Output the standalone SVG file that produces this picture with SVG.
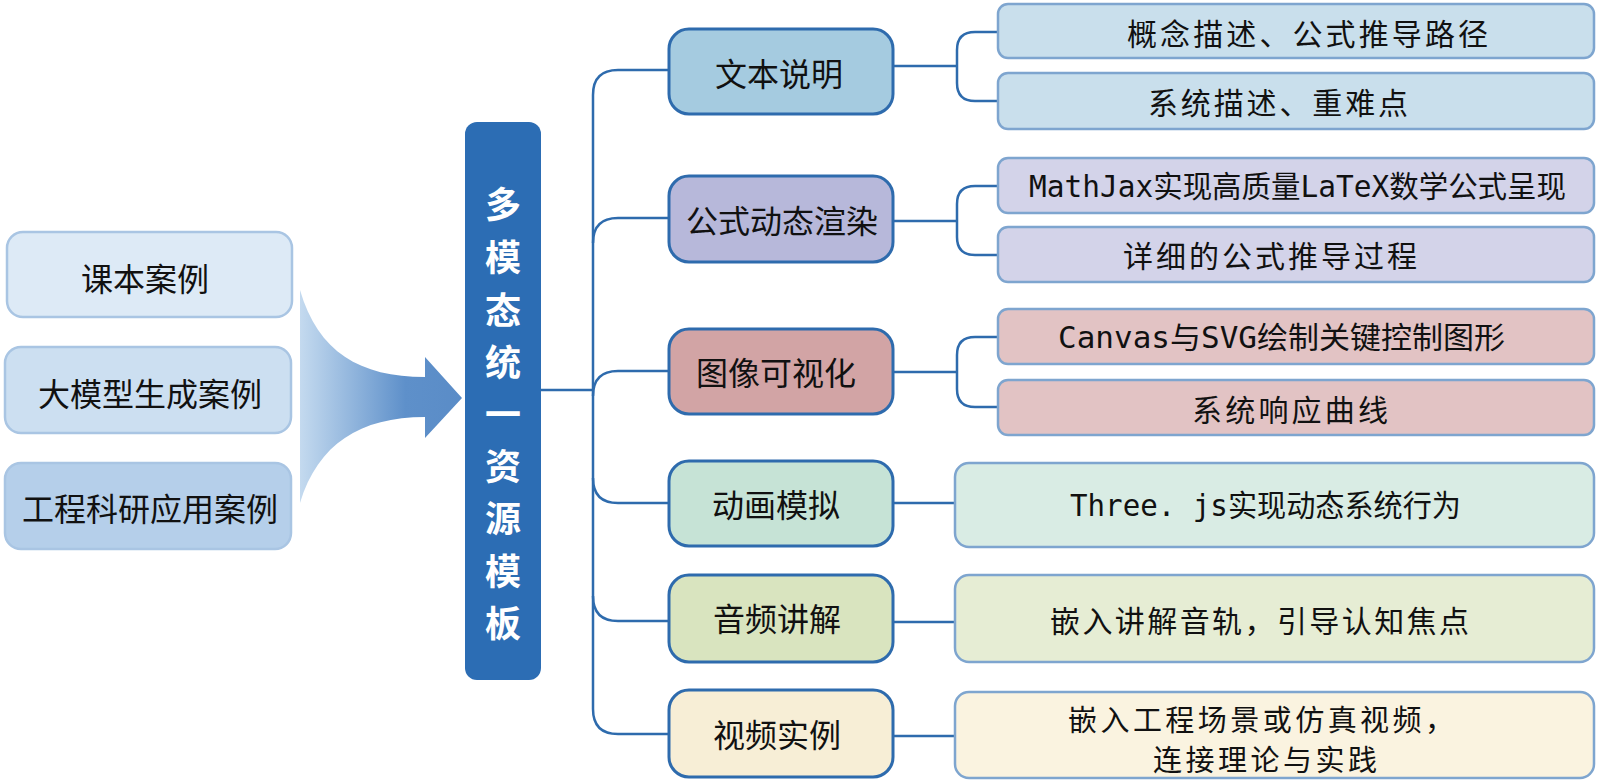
<svg xmlns="http://www.w3.org/2000/svg" width="1600" height="784" viewBox="0 0 1600 784">
<defs>
<linearGradient id="arrowGrad" x1="300" y1="0" x2="462" y2="0" gradientUnits="userSpaceOnUse">
<stop offset="0" stop-color="#C4DAEF"/>
<stop offset="0.65" stop-color="#5E90CA"/>
<stop offset="1" stop-color="#5A8CC7"/>
</linearGradient>
<style>
.src{stroke:#A9C5E3;stroke-width:2.5}
.cat{stroke:#2E6BAD;stroke-width:3}
.sub{stroke:#7EA5CF;stroke-width:2.5}
.conn{fill:none;stroke:#2E6BAD;stroke-width:2.5}
.t{font-family:"Noto Sans CJK SC","Noto Sans",sans-serif;fill:#111;dominant-baseline:central}
.tm{font-family:"DejaVu Sans Mono","Noto Sans CJK SC",monospace;fill:#111;dominant-baseline:central}
.bar{font-family:"Noto Sans CJK SC","Noto Sans",sans-serif;font-weight:bold;fill:#fff;font-size:36px;text-anchor:middle;dominant-baseline:central}
</style>
</defs>
<rect width="1600" height="784" fill="#fff"/>

<g id="src1"><rect class="src" x="7" y="232" width="285" height="85" rx="16" fill="#DDEAF6"/><text class="t" x="145" y="277" font-size="32" text-anchor="middle">课本案例</text></g>
<g id="src2"><rect class="src" x="5" y="347" width="286" height="86" rx="16" fill="#CCDFF1"/><text class="t" x="150" y="392" font-size="32" text-anchor="middle">大模型生成案例</text></g>
<g id="src3"><rect class="src" x="5" y="463" width="286" height="86" rx="16" fill="#B5CFEA"/><text class="t" x="150" y="507" font-size="32" text-anchor="middle">工程科研应用案例</text></g>

<g id="bigArrow"><path d="M300,290 C318,352 360,377 425,377 L425,357 L462,398 L425,438 L425,417 C360,417 318,444 300,503 Z" fill="url(#arrowGrad)"/></g>

<g id="center"><rect x="465" y="122" width="76" height="558" rx="12" fill="#2C6DB4"/>
<text class="bar" x="503" y="202">多</text>
<text class="bar" x="503" y="255">模</text>
<text class="bar" x="503" y="308">态</text>
<text class="bar" x="503" y="360">统</text>
<text class="bar" x="503" y="412">一</text>
<text class="bar" x="503" y="464">资</text>
<text class="bar" x="503" y="516">源</text>
<text class="bar" x="503" y="569">模</text>
<text class="bar" x="503" y="621">板</text>
</g>

<g id="connectors">
<path class="conn" d="M541,390 H593"/>
<path class="conn" d="M593,95 V709"/>
<path class="conn" d="M593,95 Q593,70 618,70 H669"/>
<path class="conn" d="M593,243 Q593,218 618,218 H669"/>
<path class="conn" d="M593,396 Q593,371 618,371 H669"/>
<path class="conn" d="M593,478 Q593,503 618,503 H669"/>
<path class="conn" d="M593,596 Q593,621 618,621 H669"/>
<path class="conn" d="M593,709 Q593,734 618,734 H669"/>
<path class="conn" d="M893,66 H957"/>
<path class="conn" d="M998,32 H975 Q957,32 957,50 V83 Q957,101 975,101 H998"/>
<path class="conn" d="M893,221 H957"/>
<path class="conn" d="M998,186 H975 Q957,186 957,204 V237 Q957,255 975,255 H998"/>
<path class="conn" d="M893,372 H957"/>
<path class="conn" d="M998,337 H975 Q957,337 957,355 V389 Q957,407 975,407 H998"/>
<path class="conn" d="M893,503 H955"/>
<path class="conn" d="M893,622 H955"/>
<path class="conn" d="M893,736 H955"/>
</g>

<g id="cat1"><rect class="cat" x="669" y="29" width="224" height="85" rx="20" fill="#A5CBE0"/><text class="t" x="779" y="72" font-size="32" text-anchor="middle">文本说明</text></g>
<g id="cat2"><rect class="cat" x="669" y="176" width="224" height="86" rx="20" fill="#B7B8DA"/><text class="t" x="782" y="219" font-size="32" text-anchor="middle">公式动态渲染</text></g>
<g id="cat3"><rect class="cat" x="669" y="329" width="224" height="85" rx="20" fill="#D2A4A5"/><text class="t" x="776" y="371" font-size="32" text-anchor="middle">图像可视化</text></g>
<g id="cat4"><rect class="cat" x="669" y="461" width="224" height="85" rx="20" fill="#C6E3D6"/><text class="t" x="776" y="503" font-size="32" text-anchor="middle">动画模拟</text></g>
<g id="cat5"><rect class="cat" x="669" y="575" width="224" height="87" rx="20" fill="#D9E4BF"/><text class="t" x="777" y="617" font-size="32" text-anchor="middle">音频讲解</text></g>
<g id="cat6"><rect class="cat" x="669" y="690" width="224" height="87" rx="20" fill="#F7EED6"/><text class="t" x="777" y="733" font-size="32" text-anchor="middle">视频实例</text></g>

<g id="sub1"><rect class="sub" x="998" y="4" width="596" height="54" rx="10" fill="#C9DFEC"/><text class="t" x="1127" y="32" font-size="30" textLength="361">概念描述、公式推导路径</text></g>
<g id="sub2"><rect class="sub" x="998" y="73" width="596" height="56" rx="10" fill="#C9DFEC"/><text class="t" x="1148" y="101" font-size="30" textLength="260">系统描述、重难点</text></g>
<g id="sub3"><rect class="sub" x="998" y="158" width="596" height="55" rx="10" fill="#D3D3E9"/><text class="tm" x="1029" y="186" font-size="30" textLength="537" lengthAdjust="spacingAndGlyphs">MathJax实现高质量LaTeX数学公式呈现</text></g>
<g id="sub4"><rect class="sub" x="998" y="227" width="596" height="55" rx="10" fill="#D3D3E9"/><text class="t" x="1123" y="254" font-size="30" textLength="294">详细的公式推导过程</text></g>
<g id="sub5"><rect class="sub" x="998" y="309" width="596" height="55" rx="10" fill="#E2C3C4"/><text class="tm" x="1058" y="337" font-size="30" textLength="447" lengthAdjust="spacingAndGlyphs">Canvas与SVG绘制关键控制图形</text></g>
<g id="sub6"><rect class="sub" x="998" y="380" width="596" height="55" rx="10" fill="#E2C3C4"/><text class="t" x="1192" y="408" font-size="30" textLength="196">系统响应曲线</text></g>
<g id="sub7"><rect class="sub" x="955" y="463" width="639" height="84" rx="14" fill="#D9ECE4"/><text class="tm" x="1070" y="505" font-size="30" textLength="391" lengthAdjust="spacingAndGlyphs">Three. js实现动态系统行为</text></g>
<g id="sub8"><rect class="sub" x="955" y="575" width="639" height="87" rx="14" fill="#E6EDD4"/><text class="t" x="1050" y="619" font-size="30" textLength="419">嵌入讲解音轨，引导认知焦点</text></g>
<g id="sub9"><rect class="sub" x="955" y="692" width="639" height="86" rx="14" fill="#FAF3E0"/><text class="t" x="1068" y="718" font-size="29" textLength="386">嵌入工程场景或仿真视频，</text><text class="t" x="1153" y="758" font-size="29" textLength="224">连接理论与实践</text></g>
</svg>
